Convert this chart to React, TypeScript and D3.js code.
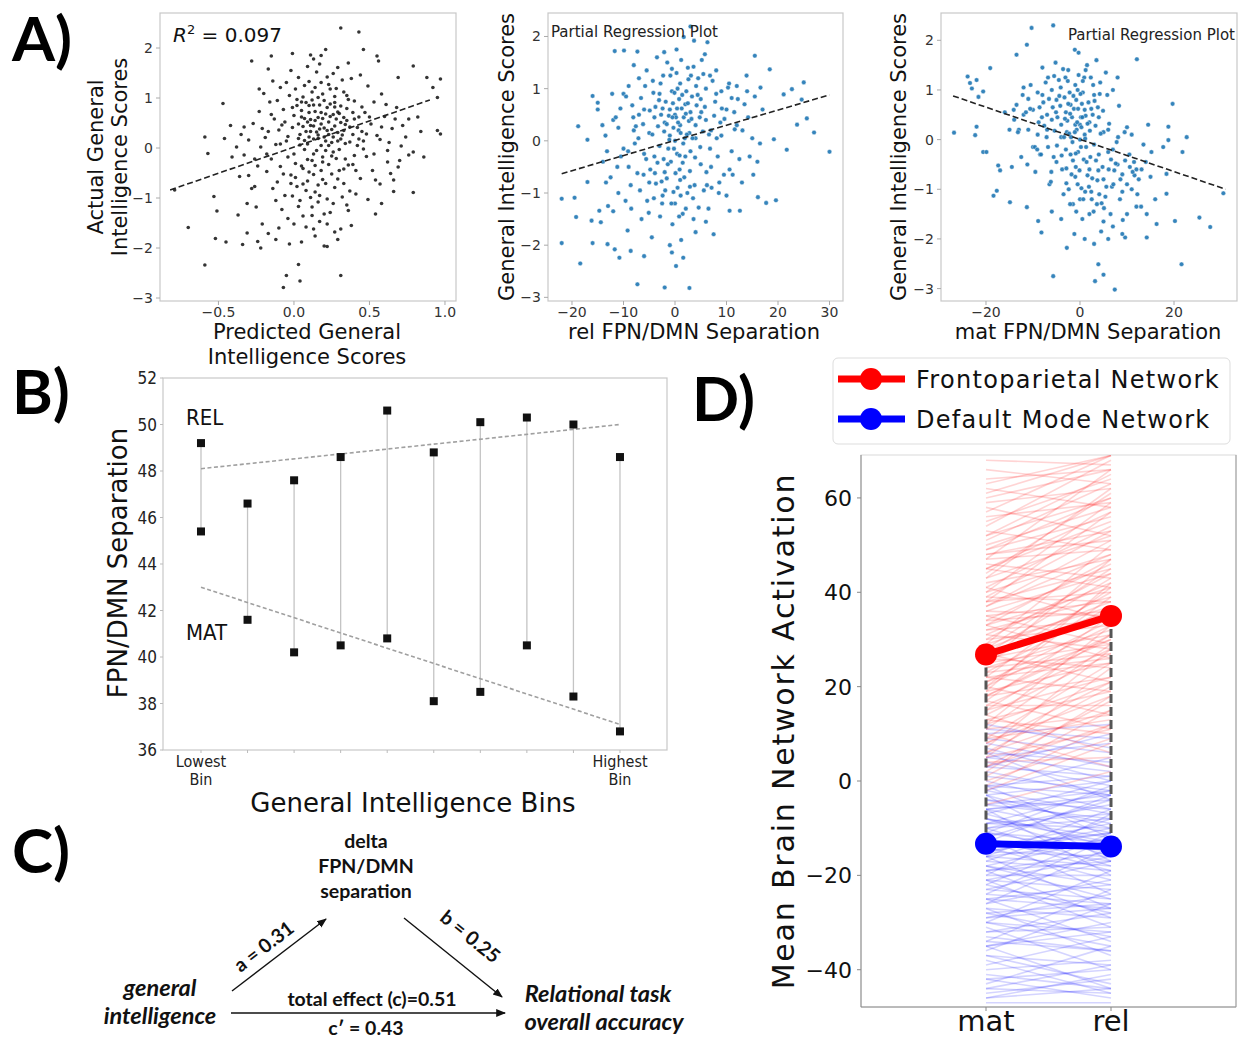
import React from "react";
import * as d3 from "d3";

// ---------------- DATA ----------------
// Panel A1: predicted vs actual general intelligence
const a1Points: [number, number][] = [
  [-0.79,-0.84],[-0.7,-1.59],[-0.59,-2.34],[-0.59,0.22],[-0.57,-0.11],[-0.53,-0.97],[-0.52,-1.81],[-0.51,-1.26],[-0.47,0.89],[-0.46,0.19],
  [-0.45,-1.88],[-0.42,0.45],[-0.41,-0.18],[-0.38,0.02],[-0.37,-1.34],[-0.34,-1.93],[-0.33,0.42],[-0.31,-1.7],[-0.31,-1.11],[-0.28,1.74],
  [-0.26,-0.77],[-0.24,-1.87],[-0.23,1.18],[-0.22,-2.0],[-0.17,1.58],[-0.15,1.84],[-0.07,-2.79],[-0.05,-2.55],[-0.01,1.89],[0.03,-2.33],
  [0.04,-2.66],[0.11,1.86],[0.18,1.85],[0.21,1.97],[0.22,-1.97],[0.31,2.4],[0.31,-2.55],[0.43,2.32],[0.46,1.97],[0.55,1.84],
  [0.56,1.74],[0.49,-1.03],[0.58,-1.11],[0.66,-0.87],[0.79,-0.89],[0.79,1.64],[0.88,1.41],[0.92,1.21],[0.95,1.01],[0.97,1.38],
  [0.97,0.28],[0.95,0.35],[0.86,-0.18],[0.79,-0.08],[0.74,0.22],[0.69,-0.38],[0.64,-0.51],[0.54,-0.64],[0.69,1.41],[0.82,0.62],[0.76,0.58],
  [0.02,0.85],[0.05,0.62],[0.08,0.91],[0.11,0.45],[0.14,0.73],[0.17,0.38],[0.2,0.95],[0.23,0.52],[0.26,0.67],[0.29,0.31],
  [0.31,0.84],[0.34,0.47],[0.37,0.12],[0.4,0.58],[0.12,1.12],[0.07,1.25],[0.18,1.31],[0.24,1.18],[0.03,1.41],[0.15,1.52],
  [-0.03,1.05],[-0.07,0.77],[-0.1,0.36],[-0.13,0.58],[-0.16,0.92],[-0.19,0.21],[-0.05,0.14],[-0.01,0.41],[0.04,0.27],[0.09,0.08],
  [0.13,-0.12],[0.16,0.19],[0.21,-0.05],[0.25,0.11],[0.28,-0.21],[0.32,0.26],[0.36,-0.34],[0.42,0.05],[0.45,0.33],[0.48,-0.17],
  [0.01,-0.31],[-0.02,-0.54],[0.06,-0.72],[0.1,-0.48],[0.14,-0.88],[0.19,-0.63],[0.22,-1.02],[0.27,-0.79],[0.3,-0.45],[0.35,-1.14],
  [-0.06,-0.95],[-0.11,-0.68],[-0.15,-0.22],[-0.18,-0.47],[-0.22,0.02],[-0.24,-0.36],[-0.08,-1.23],[-0.04,-1.41],[0.03,-1.17],[0.08,-1.58],
  [0.12,-1.35],[0.17,-1.47],[0.24,-1.29],[0.31,-1.62],[0.38,-1.55],[0.41,-0.92],[0.44,-0.61],[0.47,0.71],[0.51,0.48],[0.53,0.92],
  [0.57,0.17],[0.6,0.63],[0.62,-0.28],[0.65,0.39],[0.68,0.81],[0.71,0.04],[0.58,1.08],[0.49,1.24],[0.44,1.46],[0.38,1.39],
  [0.33,1.12],[0.27,1.03],[0.22,0.81],[0.19,0.59],[0.16,1.01],[0.1,0.71],[0.06,0.43],[0.0,0.65],[-0.09,1.21],[-0.14,1.34],
  [-0.2,1.09],[-0.23,0.73],[-0.27,0.49],[-0.3,0.16],[-0.33,-0.14],[-0.36,-0.57],[-0.28,-0.81],[-0.25,-1.18],[-0.21,-1.52],[-0.17,-1.71],
  [-0.12,-1.83],[-0.03,-1.92],[0.05,-1.88],[0.14,-1.76],[0.2,-1.96],[0.29,-1.83],[0.36,-1.25],[0.39,-0.33],[0.43,0.18],[0.46,-0.02],
  [0.15,0.32],[0.18,0.05],[0.23,0.27],[0.27,0.44],[0.11,0.57],[0.08,0.33],[0.04,0.06],[0.0,-0.12],[-0.04,0.23],[0.13,0.18],
  [0.2,0.4],[0.24,0.88],[0.29,0.72],[0.33,0.61],[0.26,0.22],[0.21,0.14],[0.17,0.86],[0.12,0.96],[0.09,-0.23],[0.06,-0.41],
  [0.14,-0.35],[0.19,-0.28],[0.25,-0.52],[0.3,-0.03],[0.34,0.09],[0.02,-0.77],[-0.01,-0.96],[0.11,-0.99],[0.16,-0.74],[0.23,-0.33],
  [0.28,0.58],[0.35,0.79],[0.4,0.94],[0.37,0.42],[0.31,0.51],[0.18,0.71],[0.13,0.44],[0.07,0.59],[0.1,0.22],[0.05,0.92],
  [0.01,1.18],[-0.06,0.52],[-0.12,0.07],[-0.09,-0.37],[-0.14,-0.81],[0.22,1.42],[0.29,1.61],[0.09,1.63],[-0.02,1.55],[0.33,-0.71],
  [0.4,-0.15],[0.52,-0.45],[0.55,0.25],[0.63,0.11],[0.66,-0.64],[0.72,0.45],[0.76,-0.14],[0.61,0.87],[0.84,0.33],[0.54,-1.32],
  [0.05,0.75],[0.09,0.52],[0.13,0.86],[0.16,0.61],[0.2,0.22],[0.24,0.63],[0.27,0.91],[0.3,0.69],[0.33,0.35],[0.36,0.97],
  [0.39,0.71],[0.42,0.41],[0.45,0.82],[0.48,0.28],[0.5,0.62],[0.15,-0.05],[0.19,-0.18],[0.22,0.35],[0.26,-0.08],[0.29,0.14],
  [0.11,0.33],[0.07,0.15],[0.03,0.48],[-0.01,0.81],[-0.04,-0.18],[-0.08,0.46],[-0.11,0.95],[-0.15,0.67],[-0.18,-0.12],[-0.21,0.39],
  [0.01,-0.59],[0.05,-0.36],[0.09,-0.66],[0.13,-0.53],[0.17,-0.95],[0.21,-0.71],[0.25,-0.16],[0.29,-0.62],[0.33,-0.42],[0.37,-0.86],
  [0.04,-1.05],[0.08,-0.85],[0.12,-1.18],[0.16,-1.08],[0.2,-1.32],[0.26,-1.11],[0.32,-0.98],[-0.02,-0.71],[-0.07,-0.52],[-0.12,-1.05],
  [0.1,1.33],[0.14,1.21],[0.19,1.08],[0.23,1.27],[0.28,1.19],[0.32,1.36],[0.06,1.02],[0.02,0.97],[-0.05,1.31],[0.35,1.05],
  [0.18,0.48],[0.21,0.68],[0.25,0.37],[0.14,0.55],[0.1,0.85],[0.27,0.82],[0.31,0.18],[0.35,0.55],[0.16,0.26],[0.23,0.05],
  [0.12,-0.25],[0.18,-0.45],[0.07,-0.03],[0.03,0.19],[0.34,-0.22],[0.39,0.27],[0.43,0.62],[0.41,-0.45],[0.46,0.14],[0.53,-0.12],
  [0.58,0.42],[0.62,-0.05],[0.57,-0.72],[0.67,0.58],[0.7,-0.25],[-0.09,0.08],[-0.17,0.33],[-0.26,-0.22],[-0.3,-0.55],[-0.35,0.27],
  [0.0,-1.52],[0.06,-1.36],[0.13,-1.62],[0.22,-1.52],[0.27,-1.68],[-0.1,-1.6],[0.17,1.68],[0.26,1.49],[0.13,1.78],[0.36,1.7],
];
const a1FitX = [-0.82, 0.9];
const a1FitY = [-0.84, 0.96];
const a1XTicks = [-0.5, 0.0, 0.5, 1.0];
const a1YTicks = [-3, -2, -1, 0, 1, 2];

// Panel A2: rel FPN/DMN separation partial regression
const a2Points: [number, number][] = [
  [-22,-1.96],[-22,-1.11],[-19.5,-1.09],[-18.8,0.28],[-18.4,-2.35],[-19.2,-1.46],[-17,0.02],[-17,-0.79],[-16,0.86],[-16.2,-1.53],
  [-16,-1.96],[-15,0.73],[-14.7,-1.34],[-14.4,-1.56],[-13.4,-0.8],[-13.1,-1.98],[-11.7,1.72],[-11.7,-2.08],[-10.8,-2.24],[-9.9,1.73],
  [-9.2,-1.72],[-8.6,-2.11],[-7.3,-2.75],[-7.3,1.71],[-6,-2.21],[-2.1,1.7],[-2,-2.81],[-0.6,-2.14],[0.2,-2.4],[1.6,-2.24],
  [1.7,1.99],[2.8,-2.82],[3.0,2.19],[3.7,1.92],[5.8,1.66],[6.3,1.89],[7.5,-1.79],[10.3,1.02],[10.6,-1.34],[12.6,-1.34],
  [13.9,1.25],[15.5,1.63],[16.1,-1.08],[16.6,1.02],[17.7,-1.19],[18.4,1.37],[19.2,0.03],[19.6,-1.14],[21.1,0.89],[21.7,-0.17],
  [22.7,0.99],[23.7,0.31],[25,1.12],[25.6,0.43],[27,0.16],[30,-0.21],[24.6,0.79],
  [0,0.5],[2,0.7],[-3,0.9],[4,0.3],[-6,0.6],[1,1.1],[3,-0.2],[-1,0.1],[5,0.8],[-4,-0.3],
  [6,0.4],[-8,0.2],[8,0.9],[-2,-0.6],[0.5,-0.9],[7,-0.5],[-5,-0.8],[9,0.1],[-9,-0.5],[10,0.6],
  [-7,1.2],[2.5,1.4],[-1.5,1.5],[4.5,1.2],[-10,0.9],[11,-0.2],[-11,-1.0],[12,0.3],[-12,0.4],[13,-0.8],
  [1.5,-1.4],[-2.5,-1.2],[3.5,-1.1],[-6.5,-1.5],[6.5,-1.3],[-0.5,-1.6],[8.5,-1.0],[-8.5,-1.3],[0,0.0],[1,0.3],
  [-1,0.6],[2,-0.3],[-2,0.35],[3,0.55],[-3,-0.1],[4,0.05],[-4,0.45],[5,-0.45],[-5,0.15],[6,1.0],
  [-6,-0.25],[7,0.2],[-7,0.5],[0.8,0.8],[-0.8,-0.4],[1.8,-0.7],[-1.8,0.75],[2.8,0.15],[-2.8,1.1],[3.8,-0.85],
  [-3.8,0.65],[4.8,0.45],[-4.8,-0.55],[5.8,0.65],[-5.8,1.05],[6.8,-0.15],[-6.8,-0.95],[7.8,0.75],[-7.8,-0.05],[8.8,0.35],
  [-9.5,0.85],[9.5,-0.65],[-10.5,-0.3],[10.5,1.1],[-11.5,0.45],[11.5,0.55],[-12.5,-0.7],[12.5,-0.35],[-13.5,0.1],[13.5,0.7],
  [14,0.95],[-14,-0.4],[15,0.05],[-15,0.6],[16,-0.4],[17,0.6],[16.5,-0.05],[14.5,-0.3],[15.5,0.85],[-13,-1.25],
  [0.3,1.75],[-3.5,1.6],[5.2,1.55],[-8,1.45],[8,1.35],[1.2,-1.9],[-4.5,-1.85],[4,-1.75],[-1,-2.0],[6,-1.55],
  [0.2,0.45],[0.7,0.2],[-0.3,0.25],[1.3,0.62],[-1.3,-0.15],[2.2,0.95],[-2.2,-0.35],[2.7,0.38],[-2.7,0.5],[3.3,0.85],
  [-3.3,0.28],[0.4,-0.25],[-0.6,0.95],[1.6,-0.05],[-1.6,-0.72],[0.9,-0.55],[-0.9,1.25],[2.4,-1.0],[-2.4,-1.05],[3.1,1.25],
  [4.2,0.68],[-4.2,0.92],[5.4,0.18],[-5.4,-1.15],[6.2,-0.85],[-6.2,0.32],[7.3,1.15],[-7.3,-0.62],[8.3,-0.3],[-8.3,0.68],
  [9,0.95],[-9,1.05],[10,-1.05],[-10,-0.15],[11,0.82],[-11,0.25],[12,1.05],[-12,-1.35],[0,-1.2],[1,-0.75],
  [-0.4,0.72],[0.6,0.35],[1.4,0.88],[2.3,0.12],[3.2,0.42],[-1.2,0.48],[-2.1,0.18],[-3.1,0.78],[4.1,1.05],[5.1,0.55],
  [-0.2,-0.15],[0.9,-0.28],[1.9,0.05],[-1.4,-0.45],[-2.6,-0.78],[2.9,-0.58],[3.9,-0.32],[-3.9,-0.62],[4.9,-0.12],[-4.9,0.58],
  [0.1,-0.62],[1.1,-1.05],[-0.7,-1.2],[2.1,-1.3],[-2.9,-1.45],[3.6,-1.5],[-4.1,-1.1],[5.6,-0.95],[-5.6,-0.35],[6.6,0.12],
  [-6.6,0.82],[7.6,0.48],[-7.6,0.28],[8.6,-0.8],[-8.6,-0.85],[9.6,0.42],[-9.6,-1.15],[10.6,-0.55],[-10.6,0.62],[11.6,0.22],
  [0.3,1.3],[1.2,1.55],[-0.6,1.38],[2.6,1.18],[-2.3,1.25],[3.6,1.42],[-4.3,1.15],[5.5,1.28],[-5.5,1.35],[6.8,1.25],
  [-0.1,0.92],[0.5,1.0],[1.7,0.45],[-1.1,0.02],[2.5,0.72],[-2.4,0.62],[3.4,0.05],[-3.4,-0.42],[4.4,0.88],[-4.4,0.12],
  [0.8,-1.45],[-0.3,-0.98],[1.5,-0.42],[-1.9,-0.95],[2.9,-0.88],[-3.7,-0.82],[4.6,-1.28],[-5.1,-1.38],[6.1,-0.6],[-6.1,-0.65],
  [7.1,-0.9],[-7.1,0.05],[8.1,0.05],[-8.1,0.45],[9.1,0.62],[-9.1,-0.2],[11.2,-0.65],[-11.2,-0.5],[12.2,0.8],[-12.2,0.9],
  [13.1,0.2],[-13.2,-0.2],[14.2,0.45],[-14.1,0.3],[15.2,-0.65],[0.4,0.62],[-0.5,0.45],[1.1,0.15],[-1.6,0.32],[2.1,0.52],
];
const a2FitX = [-22, 30];
const a2FitY = [-0.63, 0.88];
const a2XTicks = [-20, -10, 0, 10, 20, 30];
const a2YTicks = [-3, -2, -1, 0, 1, 2];

// Panel A3: mat FPN/DMN separation partial regression
const a3Points: [number, number][] = [
  [-26.8,0.14],[-23.9,1.27],[-23.4,1.14],[-23,1.03],[-22,1.2],[-21.6,0.86],[-22,0.26],[-22.3,0.09],[-20.6,0.97],[-20.6,-0.25],
  [-19.9,-0.25],[-19.1,1.44],[-18.4,-1.13],[-17.7,-1.03],[-17.4,-0.52],[-17,-0.62],[-14.9,-1.26],[-13.5,1.71],[-11.3,-1.36],[-11.3,1.91],
  [-10.3,2.25],[-8.9,-1.64],[-8.2,-1.87],[-5.7,2.3],[-5.7,-2.75],[-2.8,-2.18],[-1.1,1.81],[3.2,-2.85],[3.9,-2.51],[5,-2.72],
  [7.4,-3.02],[9.6,-1.97],[12.1,1.62],[14.2,-1.97],[16.3,-1.7],[18.4,-1.09],[18.8,0.26],[18.8,-0.01],[19.7,0.72],[20.2,-1.64],
  [21.6,-2.51],[21.8,-0.25],[22.7,0.05],[25.4,-1.57],[30.5,-1.08],[27.7,-1.76],[17.7,-0.15],[18.4,-0.69],
  [0,0.3],[-2,0.7],[3,0.9],[-4,0.3],[6,0.2],[-1,1.1],[-3,-0.2],[1,0.1],[-5,0.8],[4,-0.3],
  [-6,0.4],[8,-0.5],[-8,0.9],[2,-0.6],[-0.5,-0.9],[-7,0.5],[5,-0.8],[-9,0.1],[9,-0.7],[-10,0.6],
  [7,1.0],[-2.5,1.4],[1.5,1.5],[-4.5,1.2],[10,-0.9],[-11,0.2],[11,-1.0],[-12,0.5],[12,-0.6],[-13,0.2],
  [-1.5,-1.3],[2.5,-1.2],[-3.5,-1.1],[6.5,-1.5],[-6.5,-0.9],[0.5,-1.6],[8.5,-1.2],[-8.5,-0.3],[0,0.0],[-1,0.3],
  [1,0.6],[-2,-0.3],[2,0.35],[-3,0.55],[3,-0.1],[-4,0.05],[4,0.45],[-5,-0.45],[5,0.15],[-6,1.0],
  [6,-0.25],[-7,0.2],[7,-0.2],[-0.8,0.8],[0.8,-0.4],[-1.8,-0.7],[1.8,0.75],[-2.8,0.15],[2.8,1.1],[-3.8,-0.6],
  [3.8,0.65],[-4.8,0.45],[4.8,-0.55],[-5.8,0.65],[5.8,0.9],[-6.8,-0.15],[6.8,-0.95],[-7.8,0.75],[7.8,-0.05],[-8.8,0.35],
  [9.5,0.15],[-9.5,-0.65],[10.5,-0.3],[-10.5,1.1],[11.5,-0.45],[-11.5,0.55],[12.5,-0.8],[-12.5,-0.35],[13.5,-0.1],[-13.5,0.7],
  [14,-0.45],[-14,0.4],[15,-0.75],[-15,0.2],[16,-1.2],[-16,0.55],[13,-1.35],[14.5,0.3],[-14.5,-0.55],[10,-1.5],
  [-0.3,1.75],[3.5,1.6],[-5.2,1.55],[8,1.25],[-8,1.45],[-1.2,-1.9],[4.5,-1.85],[-4,-1.6],[1,-2.0],[-6,-1.45],
  [0.2,0.45],[-0.7,0.2],[0.3,0.25],[-1.3,0.62],[1.3,-0.15],[-2.2,0.95],[2.2,-0.35],[-2.7,0.38],[2.7,0.5],[-3.3,0.85],
  [3.3,0.28],[-0.4,-0.25],[0.6,0.95],[-1.6,-0.05],[1.6,-0.72],[-0.9,-0.55],[0.9,1.25],[-2.4,-1.0],[2.4,-1.05],[-3.1,1.25],
  [-4.2,0.68],[4.2,0.92],[-5.4,0.18],[5.4,-1.15],[-6.2,-0.85],[6.2,0.32],[-7.3,1.15],[7.3,-0.62],[-8.3,-0.3],[8.3,0.68],
  [-9,0.95],[9,-1.05],[-10,-0.15],[10,0.25],[-11,0.82],[11,0.1],[-12,1.05],[12,-1.35],[0,-1.2],[-1,-0.75],
  [2,-1.5],[5,-1.65],[7,-1.75],[9,-1.9],[3,-2.1],[6,-2.0],
  [0.4,0.72],[-0.6,0.35],[-1.4,0.88],[-2.3,0.12],[-3.2,0.42],[1.2,0.48],[2.1,0.18],[3.1,0.78],[-4.1,1.05],[-5.1,0.55],
  [0.2,-0.15],[-0.9,-0.28],[-1.9,0.05],[1.4,-0.45],[2.6,-0.78],[-2.9,-0.58],[-3.9,-0.32],[3.9,-0.62],[-4.9,-0.12],[4.9,0.58],
  [-0.1,-0.62],[1.1,-1.05],[0.7,-1.2],[-2.1,-1.3],[2.9,-1.45],[3.6,-1.3],[4.1,-1.1],[5.6,-0.95],[-5.6,-0.35],[6.6,-0.4],
  [-6.6,0.82],[7.6,-0.48],[-7.6,0.28],[8.6,-0.8],[-8.6,0.65],[9.6,-0.42],[-9.6,-0.15],[10.6,-0.55],[-10.6,0.62],[11.6,-0.72],
  [-0.3,1.3],[1.2,1.4],[0.6,1.18],[-2.6,1.18],[2.3,1.25],[-3.6,1.42],[4.3,1.15],[-5.5,1.28],[5.5,1.35],[-6.8,1.25],
  [0.1,0.92],[-0.5,1.0],[-1.7,0.45],[1.1,0.02],[-2.5,0.72],[2.4,0.62],[-3.4,0.05],[3.4,-0.42],[-4.4,0.88],[4.4,0.12],
  [-0.8,-1.45],[0.3,-0.98],[-1.5,-0.42],[1.9,-0.95],[-2.9,-0.88],[3.7,-0.82],[4.6,-1.28],[5.1,-1.38],[6.1,-0.6],[-6.1,-0.65],
  [7.1,-0.9],[-7.1,0.05],[8.1,0.05],[-8.1,0.45],[9.1,-1.62],[-9.1,-0.2],[11.2,-0.65],[-11.2,-0.5],[12.2,-1.1],[-12.2,0.9],
  [13.1,-0.6],[-13.2,0.15],[14.2,-1.5],[-14.1,0.6],[15.2,-0.25],[-0.4,0.62],[0.5,0.45],[-1.1,0.15],[1.6,0.32],[-2.1,0.52],
];
const a3FitX = [-27, 31];
const a3FitY = [0.88, -1.0];
const a3XTicks = [-20, 0, 20];
const a3YTicks = [-3, -2, -1, 0, 1, 2];

// Panel B: FPN/DMN separation by general intelligence bin
const bins = [0, 1, 2, 3, 4, 5, 6, 7, 8, 9];
const relBins = [49.2, 46.6, 47.6, 48.6, 50.6, 48.8, 50.1, 50.3, 50.0, 48.6];
const matBins = [45.4, 41.6, 40.2, 40.5, 40.8, 38.1, 38.5, 40.5, 38.3, 36.8];
const relTrend = [48.1, 50.0];
const matTrend = [43.0, 37.1];
const bYTicks = [36, 38, 40, 42, 44, 46, 48, 50, 52];
const bXLabels = [["Lowest", "Bin"], ["Highest", "Bin"]];

// Panel D: individual subject lines (mat, rel)
const fpnLines: [number, number][] = [
  [27,36],[15,22],[40,48],[8,18],[52,60],[33,41],[21,30],[45,55],[3,12],[60,66],
  [30,33],[18,31],[36,44],[11,14],[48,53],[25,40],[6,20],[55,64],[39,38],[14,27],
  [28,45],[35,29],[22,19],[44,61],[0,9],[63,69],[17,35],[31,28],[42,47],[9,25],
  [50,58],[26,24],[19,42],[37,51],[4,5],[58,52],[23,37],[13,10],[47,66],[32,39],
  [-2,8],[29,50],[41,34],[16,16],[54,68],[24,32],[7,28],[38,57],[20,14],[46,43],
  [12,33],[34,46],[62,58],[1,15],[27,21],[43,62],[10,3],[57,69],[30,44],[19,25],
  [-5,2],[36,35],[25,47],[14,6],[49,56],[22,41],[66,63],[5,24],[33,26],[40,59],
  [17,11],[28,38],[53,49],[2,18],[45,41],[21,34],[68,67],[11,29],[39,53],[26,31],
  [29,37],[16,28],[43,52],[9,13],[51,63],[34,36],[20,33],[47,49],[6,15],[61,69],
  [31,42],[18,22],[37,48],[12,21],[49,60],[24,27],[3,17],[56,59],[38,45],[15,31],
  [27,43],[35,38],[23,26],[45,57],[-1,12],[64,66],[18,30],[32,34],[41,54],[8,21],
  [52,65],[25,29],[20,39],[38,40],[5,11],[59,62],[22,25],[13,19],[48,51],[33,47],
];
const dmnLines: [number, number][] = [
  [-13,-14],[-25,-22],[-5,-8],[-35,-30],[2,-3],[-18,-25],[-9,-2],[-40,-38],[-15,-10],[5,8],
  [-22,-28],[-1,-12],[-30,-19],[-11,-15],[-45,-42],[-7,0],[-28,-33],[-16,-6],[8,3],[-20,-20],
  [-3,-17],[-38,-45],[-12,-4],[-26,-14],[10,12],[-33,-36],[-6,-11],[-19,-29],[-43,-35],[0,-6],
  [-14,-21],[-24,-12],[-8,-13],[-31,-40],[4,-1],[-17,-8],[-36,-26],[-10,-18],[-47,-47],[-2,5],
  [-21,-31],[-13,-3],[-29,-24],[6,-4],[-15,-16],[-39,-33],[-4,-9],[-23,-17],[12,7],[-27,-37],
  [-9,-7],[-34,-23],[-16,-27],[1,-2],[-42,-46],[-11,-1],[-19,-15],[-6,-20],[-32,-28],[-14,-9],
  [-44,-39],[-7,-14],[-25,-34],[3,10],[-18,-12],[-37,-43],[-12,-24],[-1,1],[-22,-11],[-30,-32],
  [-10,-5],[-46,-41],[-17,-19],[7,0],[-26,-21],[-3,-10],[-35,-44],[-20,-7],[-8,-16],[-28,-26],
  [-14,-11],[-24,-26],[-6,-4],[-34,-36],[3,1],[-19,-17],[-8,-12],[-41,-44],[-16,-13],[6,4],
  [-21,-23],[-2,-7],[-29,-27],[-12,-19],[-44,-45],[-6,-3],[-27,-29],[-15,-11],[9,6],[-21,-16],
  [-4,-6],[-37,-39],[-11,-13],[-25,-27],[11,9],[-32,-31],[-5,-2],[-18,-22],[-42,-40],[-1,-3],
  [-13,-17],[-23,-25],[-9,-10],[-30,-35],[5,2],[-16,-18],[-35,-32],[-10,-8],[-46,-44],[-3,0],
];
const conditions = ["mat", "rel"];
const fpnMean = [26.8, 35.0];
const dmnMean = [-13.3, -13.9];
const dYTicks = [-40, -20, 0, 20, 40, 60];

// ---------------- RENDER ----------------
const SANS = "'DejaVu Sans', 'Liberation Sans', sans-serif";
const COND = "'DejaVu Sans Condensed', 'DejaVu Sans', sans-serif";
const CAL = "Lato, 'Open Sans', sans-serif";
const fmt = (v: number, d = 0) => v.toFixed(d).replace("-", "\u2212");

type Box = { l: number; r: number; t: number; b: number };

function Scatter(props: {
  box: Box; xd: [number, number]; yd: [number, number];
  xt: number[]; yt: number[]; xdec: number;
  pts: [number, number][]; fill: string; edge: string; rad: number; op: number;
  fx: number[]; fy: number[];
}) {
  const { box, xd, yd, xt, yt, xdec, pts, fill, edge, rad, op, fx, fy } = props;
  const x = d3.scaleLinear().domain(xd).range([box.l, box.r]);
  const y = d3.scaleLinear().domain(yd).range([box.b, box.t]);
  const line = d3.line<number>().x((d) => x(d)).y((_, i) => y(fy[i]));
  return (
    <g>
      <rect x={box.l} y={box.t} width={box.r - box.l} height={box.b - box.t} fill="white" stroke="#c8c8c8" strokeWidth={1.2} />
      {pts.map((p, i) => (
        <circle key={i} cx={x(p[0])} cy={y(p[1])} r={rad} fill={fill} fillOpacity={op} stroke={edge} strokeWidth={0.4} />
      ))}
      <path d={line(fx) || ""} fill="none" stroke="#222" strokeWidth={1.6} strokeDasharray="6,3" />
      {xt.map((v) => (
        <g key={"x" + v}>
          <line x1={x(v)} x2={x(v)} y1={box.b} y2={box.b + 4} stroke="#aaa" />
          <text x={x(v)} y={box.b + 16} textAnchor="middle" fontSize={14} fill="#333" fontFamily={SANS}>{fmt(v, xdec)}</text>
        </g>
      ))}
      {yt.map((v) => (
        <g key={"y" + v}>
          <line x1={box.l - 4} x2={box.l} y1={y(v)} y2={y(v)} stroke="#aaa" />
          <text x={box.l - 7} y={y(v) + 5} textAnchor="end" fontSize={14} fill="#333" fontFamily={SANS}>{fmt(v)}</text>
        </g>
      ))}
    </g>
  );
}

function PanelB() {
  const box: Box = { l: 163, r: 667, t: 378, b: 750 };
  const x = d3.scaleLinear().domain([-0.816, 10.01]).range([box.l, box.r]);
  const y = d3.scaleLinear().domain([36, 52]).range([box.b, box.t]);
  const trend = d3.line<number>().x((_, i) => x(i === 0 ? bins[0] : bins[bins.length - 1])).y((d) => y(d));
  return (
    <g>
      <rect x={box.l} y={box.t} width={box.r - box.l} height={box.b - box.t} fill="white" stroke="#c8c8c8" strokeWidth={1.2} />
      {bins.map((b) => (
        <line key={"v" + b} x1={x(b)} x2={x(b)} y1={y(relBins[b])} y2={y(matBins[b])} stroke="#c4c4c4" strokeWidth={1.3} />
      ))}
      <path d={trend(relTrend) || ""} stroke="#a0a0a0" strokeWidth={1.6} strokeDasharray="4,2.5" fill="none" />
      <path d={trend(matTrend) || ""} stroke="#a0a0a0" strokeWidth={1.6} strokeDasharray="4,2.5" fill="none" />
      {bins.map((b) => (
        <g key={"m" + b}>
          <rect x={x(b) - 4} y={y(relBins[b]) - 4} width={8} height={8} fill="#111" />
          <rect x={x(b) - 4} y={y(matBins[b]) - 4} width={8} height={8} fill="#111" />
          <line x1={x(b)} x2={x(b)} y1={box.b} y2={box.b + 3} stroke="#bbb" />
        </g>
      ))}
      {bYTicks.map((v) => (
        <g key={"yt" + v}>
          <line x1={box.l - 3} x2={box.l} y1={y(v)} y2={y(v)} stroke="#bbb" />
          <text x={box.l - 6} y={y(v) + 6} textAnchor="end" fontSize={17} fill="#222" fontFamily={COND} fontStretch="condensed">{v}</text>
        </g>
      ))}
      {[bins[0], bins[bins.length - 1]].map((b, i) => (
        <text key={"xl" + b} x={x(b)} textAnchor="middle" fontSize={16} fill="#222" fontFamily={COND} fontStretch="condensed">
          <tspan x={x(b)} y={767}>{bXLabels[i][0]}</tspan>
          <tspan x={x(b)} y={785}>{bXLabels[i][1]}</tspan>
        </text>
      ))}
      <text x={186} y={425} fontSize={22} fill="#111" fontFamily={COND} fontStretch="condensed">REL</text>
      <text x={186} y={640} fontSize={22} fill="#111" fontFamily={COND} fontStretch="condensed">MAT</text>
      <text x={413} y={812} textAnchor="middle" fontSize={26} fill="#111" fontFamily={SANS}>General Intelligence Bins</text>
      <text transform="translate(127,563) rotate(-90)" textAnchor="middle" fontSize={26} fill="#111" fontFamily={SANS}>FPN/DMN Separation</text>
    </g>
  );
}

function PanelC() {
  const st = { fontFamily: CAL, fontWeight: 700 as const, fill: "#111" };
  return (
    <g>
      <defs>
        <marker id="arr" viewBox="0 0 10 10" refX="9" refY="5" markerWidth="7" markerHeight="7" orient="auto">
          <path d="M0,1 L10,5 L0,9 z" fill="#111" />
        </marker>
      </defs>
      <text x={366} y={848} textAnchor="middle" fontSize={19.5} {...st}>delta</text>
      <text x={366} y={873} textAnchor="middle" fontSize={19.5} {...st}>FPN/DMN</text>
      <text x={366} y={898} textAnchor="middle" fontSize={19.5} {...st}>separation</text>
      <line x1={232} y1={991} x2={326} y2={919} stroke="#111" strokeWidth={1.4} markerEnd="url(#arr)" />
      <line x1={404} y1={918} x2={502} y2={997} stroke="#111" strokeWidth={1.4} markerEnd="url(#arr)" />
      <line x1={231} y1={1013} x2={505} y2={1013} stroke="#111" strokeWidth={1.4} markerEnd="url(#arr)" />
      <text transform="translate(268,952) rotate(-37.5)" textAnchor="middle" fontSize={19.5} {...st}>a = 0.31</text>
      <text transform="translate(466,942) rotate(39)" textAnchor="middle" fontSize={19.5} {...st}>b = 0.25</text>
      <text x={372} y={1006} textAnchor="middle" fontSize={19.5} {...st}>total effect (c)=0.51</text>
      <text x={366} y={1035} textAnchor="middle" fontSize={19.5} {...st}>c′ = 0.43</text>
      <text x={160} y={996} textAnchor="middle" fontSize={23.5} fontStyle="italic" {...st}>general</text>
      <text x={160} y={1024} textAnchor="middle" fontSize={23.5} fontStyle="italic" {...st}>intelligence</text>
      <text x={598} y={1002} textAnchor="middle" fontSize={23.5} fontStyle="italic" {...st}>Relational task</text>
      <text x={604} y={1030} textAnchor="middle" fontSize={23.5} fontStyle="italic" {...st}>overall accuracy</text>
    </g>
  );
}

function PanelD() {
  const box: Box = { l: 861, r: 1236, t: 455, b: 1007 };
  const x = d3.scaleLinear().domain([-1, 2]).range([box.l, box.r]);
  const y = d3.scaleLinear().domain([-47.9, 69.1]).range([box.b, box.t]);
  const pair = d3.line<number>().x((_, i) => x(i)).y((d) => y(d));
  return (
    <g>
      <defs>
        <clipPath id="dclip"><rect x={box.l} y={box.t} width={box.r - box.l} height={box.b - box.t} /></clipPath>
      </defs>
      <rect x={box.l} y={box.t} width={box.r - box.l} height={box.b - box.t} fill="white" stroke="#dadada" strokeWidth={1} />
      <line x1={box.l} x2={box.l} y1={box.t} y2={box.b} stroke="#888" />
      <line x1={box.l} x2={box.r} y1={box.b} y2={box.b} stroke="#888" />
      <line x1={box.r} x2={box.r} y1={box.t} y2={box.b} stroke="#999" />
      <g clipPath="url(#dclip)">
        {dmnLines.map((p, i) => (
          <path key={"d" + i} d={pair(p) || ""} stroke="#0000ff" strokeOpacity={0.17} strokeWidth={1.6} fill="none" />
        ))}
        {fpnLines.map((p, i) => (
          <path key={"f" + i} d={pair(p) || ""} stroke="#ff0000" strokeOpacity={0.17} strokeWidth={1.6} fill="none" />
        ))}
      </g>
      {conditions.map((c, i) => (
        <line key={"dash" + c} x1={x(i)} x2={x(i)} y1={y(fpnMean[i])} y2={y(dmnMean[i])} stroke="#555" strokeWidth={3} strokeDasharray="9,4" />
      ))}
      <path d={pair(fpnMean) || ""} stroke="#ff0000" strokeWidth={7} fill="none" />
      <path d={pair(dmnMean) || ""} stroke="#0000ff" strokeWidth={7} fill="none" />
      {conditions.map((c, i) => (
        <g key={"m" + c}>
          <circle cx={x(i)} cy={y(fpnMean[i])} r={11} fill="#ff0000" />
          <circle cx={x(i)} cy={y(dmnMean[i])} r={11} fill="#0000ff" />
          <line x1={x(i)} x2={x(i)} y1={box.b} y2={box.b + 4} stroke="#888" />
          <text x={x(i)} y={1031} textAnchor="middle" fontSize={29} fill="#111" fontFamily={SANS}>{c}</text>
        </g>
      ))}
      {dYTicks.map((v) => (
        <g key={"dy" + v}>
          <line x1={box.l - 4} x2={box.l} y1={y(v)} y2={y(v)} stroke="#888" />
          <text x={box.l - 9} y={y(v) + 8} textAnchor="end" fontSize={22} fill="#111" fontFamily={SANS}>{fmt(v)}</text>
        </g>
      ))}
      <text transform="translate(794,731) rotate(-90)" textAnchor="middle" fontSize={30} fill="#111" fontFamily={SANS} letterSpacing={1.8}>Mean Brain Network Activation</text>
      <rect x={833} y={358} width={397} height={86} rx={5} fill="white" stroke="#ddd" />
      <line x1={838} x2={905} y1={379} y2={379} stroke="#ff0000" strokeWidth={7} />
      <circle cx={871} cy={379} r={11} fill="#ff0000" />
      <line x1={838} x2={905} y1={419} y2={419} stroke="#0000ff" strokeWidth={7} />
      <circle cx={871} cy={419} r={11} fill="#0000ff" />
      <text x={916} y={388} fontSize={24} fill="#111" fontFamily={SANS} letterSpacing={1.3}>Frontoparietal Network</text>
      <text x={916} y={428} fontSize={24} fill="#111" fontFamily={SANS} letterSpacing={1.3}>Default Mode Network</text>
    </g>
  );
}

export default function App() {
  return (
    <svg width={1243} height={1040} style={{ position: "absolute", left: 0, top: 0, background: "white" }} xmlns="http://www.w3.org/2000/svg">
      <rect width={1243} height={1040} fill="white" />
      {/* Panel letters */}
      <text x={12} y={61} fontSize={62} fontWeight={700} fontFamily={CAL} fill="#000">A)</text>
      <text x={12} y={414} fontSize={62} fontWeight={700} fontFamily={CAL} fill="#000">B)</text>
      <text x={12} y={873} fontSize={62} fontWeight={700} fontFamily={CAL} fill="#000">C)</text>
      <text x={692} y={421} fontSize={62} fontWeight={700} fontFamily={CAL} fill="#000">D)</text>

      {/* A1 */}
      <Scatter box={{ l: 160, r: 456, t: 13, b: 301 }} xd={[-0.887, 1.073]} yd={[-3.06, 2.7]}
        xt={a1XTicks} yt={a1YTicks} xdec={1} pts={a1Points} fill="#111" edge="none" rad={1.8} op={0.85}
        fx={a1FitX} fy={a1FitY} />
      <text x={173} y={42} fontSize={20} fill="#111" fontFamily={SANS}>
        <tspan fontStyle="italic">R</tspan><tspan fontSize={13} dy={-8}>2</tspan><tspan dy={8}> = 0.097</tspan>
      </text>
      <text transform="translate(103,157) rotate(-90)" textAnchor="middle" fontSize={21} fill="#111" fontFamily={SANS}>Actual General</text>
      <text transform="translate(127,157) rotate(-90)" textAnchor="middle" fontSize={21} fill="#111" fontFamily={SANS}>Intelligence Scores</text>
      <text x={307} y={339} textAnchor="middle" fontSize={21} fill="#111" fontFamily={SANS}>Predicted General</text>
      <text x={307} y={364} textAnchor="middle" fontSize={21} fill="#111" fontFamily={SANS}>Intelligence Scores</text>

      {/* A2 */}
      <Scatter box={{ l: 548, r: 843, t: 13, b: 301 }} xd={[-24.66, 32.62]} yd={[-3.07, 2.45]}
        xt={a2XTicks} yt={a2YTicks} xdec={0} pts={a2Points} fill="#1f77b4" edge="#ffffff" rad={2.3} op={0.9}
        fx={a2FitX} fy={a2FitY} />
      <text x={551} y={37} fontSize={15} fill="#222" fontFamily={SANS}>Partial Regression Plot</text>
      <text transform="translate(514,157) rotate(-90)" textAnchor="middle" fontSize={21} fill="#111" fontFamily={SANS}>General Intelligence Scores</text>
      <text x={694} y={339} textAnchor="middle" fontSize={21} fill="#111" fontFamily={SANS}>rel FPN/DMN Separation</text>

      {/* A3 */}
      <Scatter box={{ l: 941, r: 1237, t: 13, b: 301 }} xd={[-29.57, 33.4]} yd={[-3.25, 2.55]}
        xt={a3XTicks} yt={a3YTicks} xdec={0} pts={a3Points} fill="#1f77b4" edge="#ffffff" rad={2.3} op={0.9}
        fx={a3FitX} fy={a3FitY} />
      <text x={1235} y={40} textAnchor="end" fontSize={15} fill="#222" fontFamily={SANS}>Partial Regression Plot</text>
      <text transform="translate(906,157) rotate(-90)" textAnchor="middle" fontSize={21} fill="#111" fontFamily={SANS}>General Intelligence Scores</text>
      <text x={1088} y={339} textAnchor="middle" fontSize={21} fill="#111" fontFamily={SANS}>mat FPN/DMN Separation</text>

      <PanelB />
      <PanelC />
      <PanelD />
    </svg>
  );
}
